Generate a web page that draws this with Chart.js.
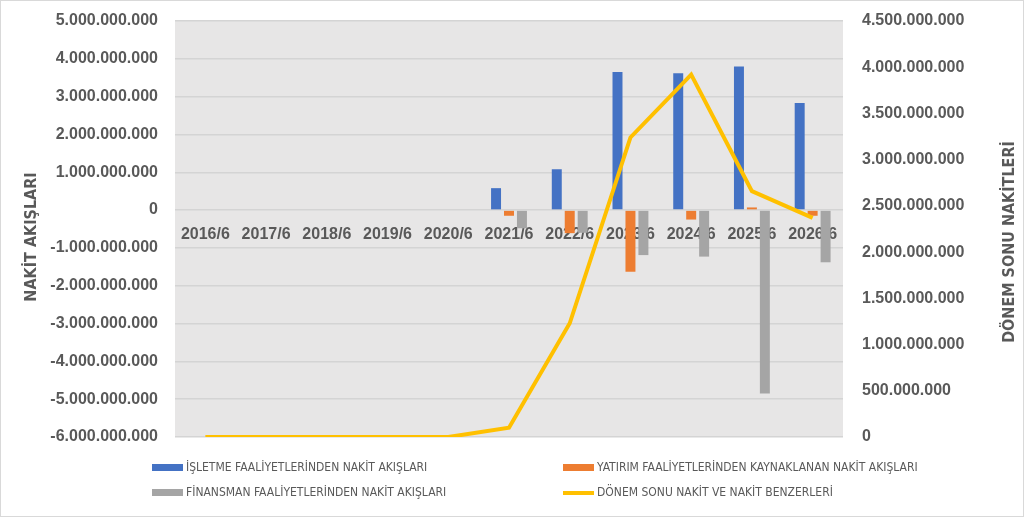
<!DOCTYPE html>
<html>
<head>
<meta charset="utf-8">
<script src="https://cdn.jsdelivr.net/npm/chart.js@4.4.1/dist/chart.umd.min.js"></script>
<style>
  html, body { margin: 0; padding: 0; background: #fff; }
  #wrap { position: relative; width: 1024px; height: 517px; }
  #wrap:after { content: ''; position: absolute; left: 0; top: 0; right: 0; bottom: 0;
    border: 1px solid #d9d9d9; pointer-events: none; }
  #grafik { position: absolute; left: 0; top: 0; }
  #legend { position: absolute; left: 152px; top: 459px; width: 840px;
    font-family: 'Liberation Sans Narrow', 'DejaVu Sans Condensed', sans-serif;
    font-size: 12px; color: #595959; }
  .item { position: absolute; white-space: nowrap; height: 16px; line-height: 16px; }
  .item span.sw { display: inline-block; width: 31px; vertical-align: middle; margin-right: 3px; }
</style>
</head>
<body>
<div id="wrap">
  <canvas id="grafik" width="1024" height="517"></canvas>
  <div id="legend"></div>
</div>
<script>
// veriler
const yillar = ['2016/6', '2017/6', '2018/6', '2019/6', '2020/6', '2021/6', '2022/6', '2023/6', '2024/6', '2025/6', '2026/6'];
const isletme = [0, 0, 0, 0, 0, 580000000, 1080000000, 3650000000, 3620000000, 3800000000, 2830000000];
const yatirim = [0, 0, 0, 0, 0, -150000000, -610000000, -1630000000, -250000000, 70000000, -150000000];
const finansman = [0, 0, 0, 0, 0, -480000000, -600000000, -1190000000, -1230000000, -4850000000, -1380000000];
const donemSonu = [0, 0, 0, 0, 0, 100000000, 1230000000, 3240000000, 3920000000, 2660000000, 2370000000];

const solEksenBaslik = 'NAKİT AKIŞLARI';
const sagEksenBaslik = 'DÖNEM SONU NAKİTLERİ';

function noktali(v) {
    const s = Math.abs(v).toFixed(0).replace(/\B(?=(\d{3})+(?!\d))/g, '.');
    return (v < 0 ? '-' : '') + s;
}

const tickFont = { family: "'Liberation Sans', Arial, sans-serif", size: 16, weight: 'bold' };
const gri = '#595959';

// eksen basliklari (ikisi de asagidan yukari okunuyor)
const baslikPlugin = {
    id: 'eksenBaslik',
    afterDraw(chart) {
        const ctx = chart.ctx;
        ctx.save();
        ctx.fillStyle = gri;
        ctx.font = "bold 16px 'Liberation Sans Narrow', 'DejaVu Sans Condensed', sans-serif";
        ctx.textAlign = 'center';
        ctx.textBaseline = 'middle';
        [[32, 237, solEksenBaslik], [1010, 242, sagEksenBaslik]].forEach(function (b) {
            ctx.save();
            ctx.translate(b[0], b[1]);
            ctx.rotate(-Math.PI / 2);
            ctx.fillText(b[2], 0, 0);
            ctx.restore();
        });
        ctx.restore();
    }
};

const arkaPlanPlugin = {
    id: 'arkaPlan',
    beforeDraw(chart) {
        const a = chart.chartArea;
        chart.ctx.save();
        chart.ctx.fillStyle = '#e7e6e6';
        chart.ctx.fillRect(a.left, a.top, a.right - a.left, a.bottom - a.top);
        chart.ctx.restore();
    }
};

// tick padding ust bosluga eklenmesin
function sabitGenislik(w) {
    return function (scale) {
        scale.width = w;
        scale.paddingTop = 10;
        scale.paddingBottom = 10;
    };
}

const grafik = new Chart(document.getElementById('grafik').getContext('2d'), {
    data: {
        labels: yillar,
        datasets: [
            {
                type: 'line',
                label: 'DÖNEM SONU NAKİT VE NAKİT BENZERLERİ',
                data: donemSonu,
                yAxisID: 'y1',
                borderColor: '#ffc000',
                backgroundColor: '#ffc000',
                borderWidth: 4,
                pointRadius: 0,
                tension: 0,
                order: 0
            },
            {
                type: 'bar',
                label: 'İŞLETME FAALİYETLERİNDEN NAKİT AKIŞLARI',
                data: isletme,
                yAxisID: 'y',
                backgroundColor: '#4472c4',
                order: 1
            },
            {
                type: 'bar',
                label: 'YATIRIM FAALİYETLERİNDEN KAYNAKLANAN NAKİT AKIŞLARI',
                data: yatirim,
                yAxisID: 'y',
                backgroundColor: '#ed7d31',
                order: 1
            },
            {
                type: 'bar',
                label: 'FİNANSMAN FAALİYETLERİNDEN NAKİT AKIŞLARI',
                data: finansman,
                yAxisID: 'y',
                backgroundColor: '#a5a5a5',
                order: 1
            }
        ]
    },
    options: {
        responsive: false,
        animation: false,
        layout: { padding: { top: 21, bottom: 80, left: 0, right: 0 } },
        datasets: { bar: { categoryPercentage: 0.64, barPercentage: 0.77 } },
        plugins: { legend: { display: false }, tooltip: { enabled: false } },
        scales: {
            x: {
                position: { y: 0 },
                grid: { display: false, drawTicks: false },
                border: { display: false },
                ticks: { color: gri, font: tickFont, padding: 15, maxRotation: 0, autoSkip: false }
            },
            y: {
                position: 'left',
                min: -6000000000,
                max: 5000000000,
                ticks: { stepSize: 1000000000, color: gri, font: tickFont, padding: 17, callback: noktali },
                grid: { color: '#d4d4d4', lineWidth: 1.5, drawTicks: false },
                border: { display: false },
                afterFit: sabitGenislik(175)
            },
            y1: {
                position: 'right',
                min: 0,
                max: 4500000000,
                ticks: { stepSize: 500000000, color: gri, font: tickFont, padding: 19, callback: noktali },
                grid: { display: false, drawTicks: false },
                border: { display: false },
                afterFit: sabitGenislik(181)
            }
        }
    },
    plugins: [arkaPlanPlugin, baslikPlugin]
});

// lejant: iki sutun, Excel'deki sirayla
const lejantSirasi = [1, 2, 3, 0];
const konumlar = [[0, 0], [411, 0], [0, 25], [411, 25]];
const lejant = document.getElementById('legend');
lejantSirasi.forEach(function (i, k) {
    const ds = grafik.data.datasets[i];
    const el = document.createElement('div');
    el.className = 'item';
    el.style.left = konumlar[k][0] + 'px';
    el.style.top = konumlar[k][1] + 'px';
    const sw = document.createElement('span');
    sw.className = 'sw';
    sw.style.height = ds.type === 'line' ? '4px' : '7px';
    sw.style.background = ds.type === 'line' ? ds.borderColor : ds.backgroundColor;
    el.appendChild(sw);
    el.appendChild(document.createTextNode(ds.label));
    lejant.appendChild(el);
});
</script>
</body>
</html>
